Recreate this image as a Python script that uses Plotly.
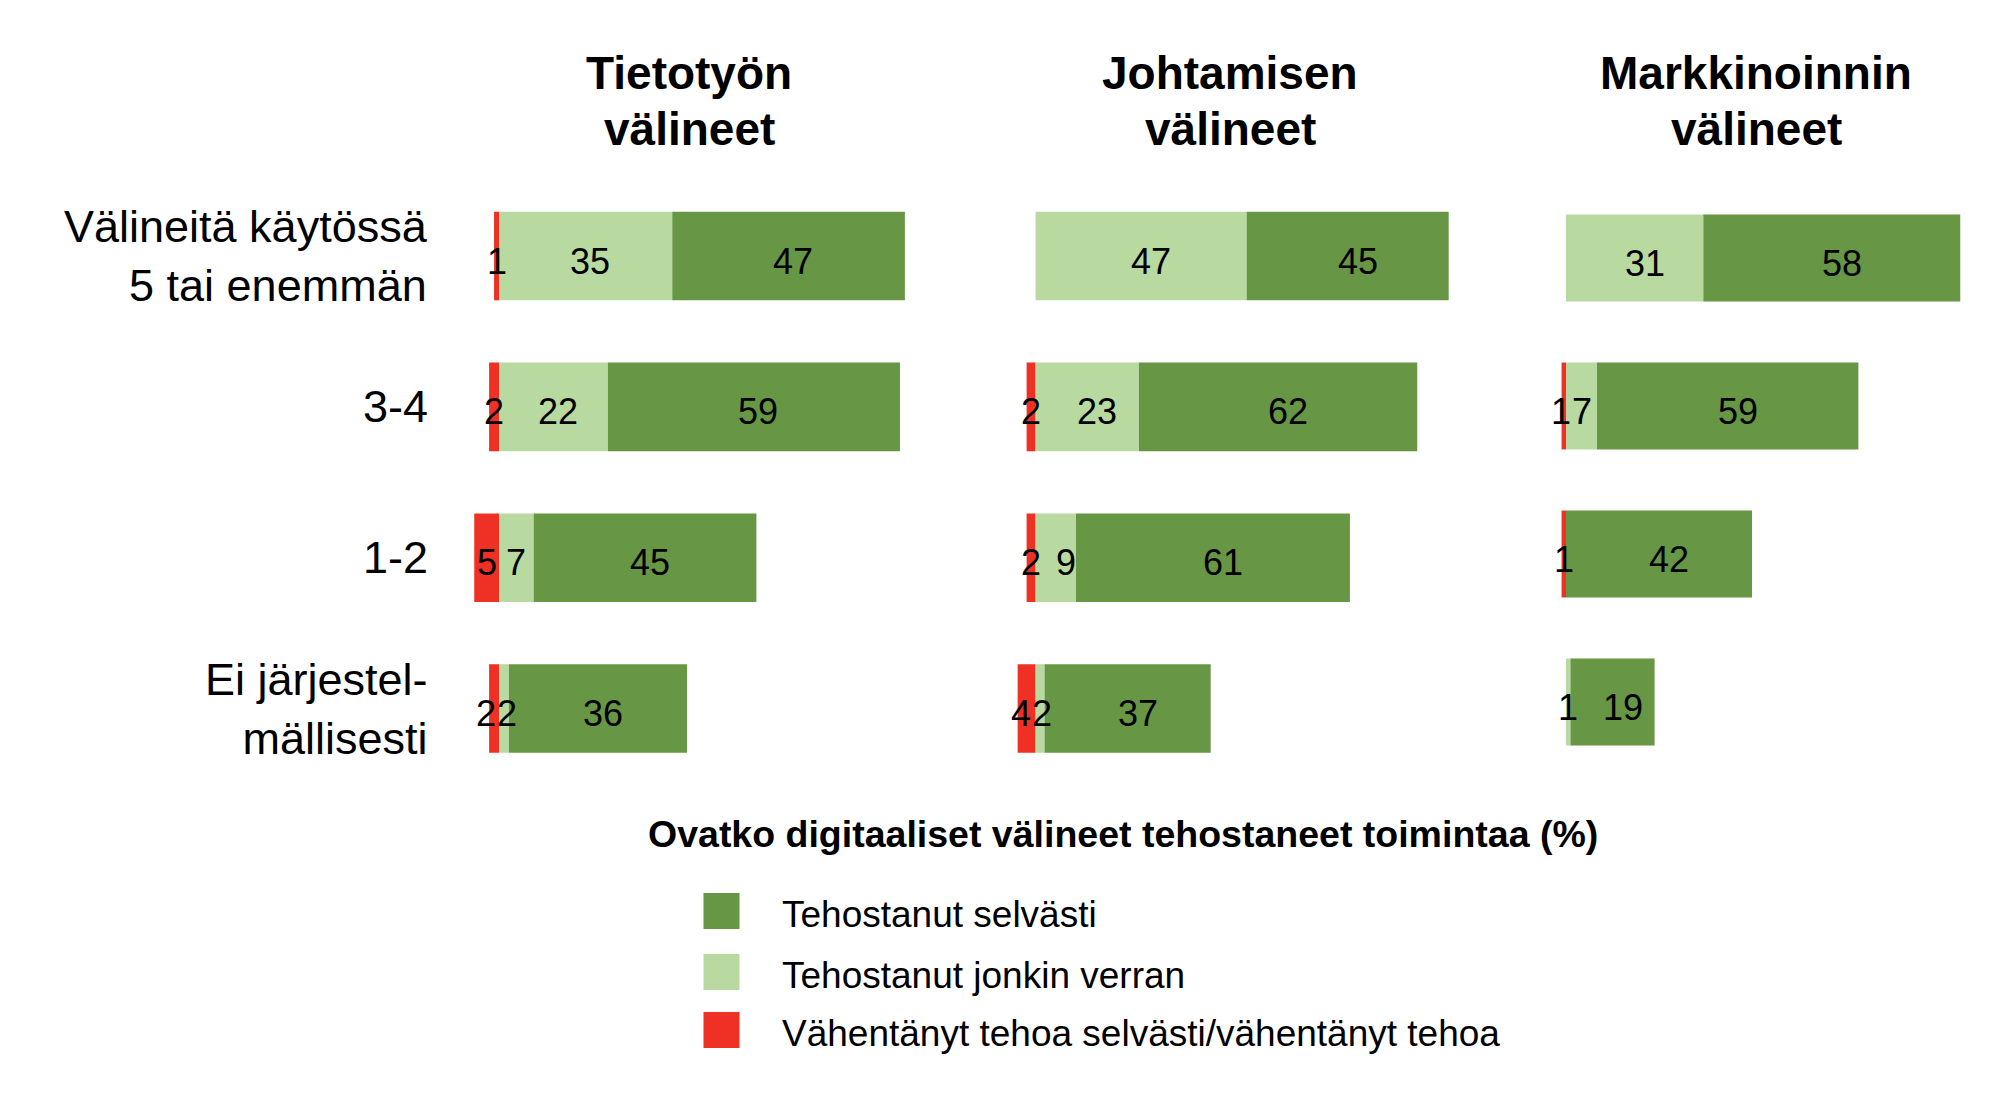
import plotly.graph_objects as go

# ---------------- data ----------------
categories = ["Välineitä käytössä<br>5 tai enemmän", "3-4", "1-2", "Ei järjestel-<br>mällisesti"]
panel_titles = [["Tietotyön", "välineet"], ["Johtamisen", "välineet"], ["Markkinoinnin", "välineet"]]

series_names = ["Tehostanut selvästi", "Tehostanut jonkin verran",
                "Vähentänyt tehoa selvästi/vähentänyt tehoa"]
legend_title = "Ovatko digitaaliset välineet tehostaneet toimintaa (%)"

# Tietotyön välineet
tieto_red = [1, 2, 5, 2]
tieto_light = [35, 22, 7, 2]
tieto_dark = [47, 59, 45, 36]
# Johtamisen välineet
joht_red = [0, 2, 2, 4]
joht_light = [47, 23, 9, 2]
joht_dark = [45, 62, 61, 37]
# Markkinoinnin välineet
mark_red = [0, 1, 1, 0]
mark_light = [31, 7, 0, 1]
mark_dark = [58, 59, 42, 19]

panels = [
    (tieto_red, tieto_light, tieto_dark),
    (joht_red, joht_light, joht_dark),
    (mark_red, mark_light, mark_dark),
]

# ---------------- style ----------------
W, H = 2016, 1114
RED = "#EE3124"
LIGHT = "#B8D9A0"
DARK = "#679645"
FONT = "Arial, Liberation Sans, sans-serif"
LABEL_SIZE = 36
DIGIT_W = LABEL_SIZE * 0.556

# panel geometry in pixels: (domain_left, domain_right, zero_px, px_per_unit, top_px, bottom_px)
geom = [
    (440, 960, 499.0, 4.95, 180.6, 784.0),
    (980, 1490, 1035.6, 4.49, 180.6, 784.0),
    (1520, 2010, 1566.0, 4.43, 184.0, 776.0),
]
label_dx = [4.5, 10, 10]   # horizontal nudge of labels in wide segments (px)
title_x = [689, 1230, 1756]
title_y = [73, 129]

fig = go.Figure()
annotations = []
for i, ((red, light, dark), g) in enumerate(zip(panels, geom)):
    ax = "" if i == 0 else str(i + 1)
    d0, d1, z, s, top, bot = g
    common = dict(orientation="h", y=categories, xaxis="x" + ax, yaxis="y" + ax,
                  showlegend=False, hoverinfo="skip")
    fig.add_trace(go.Bar(x=[-v for v in red], marker=dict(color=RED, line=dict(width=0)), **common))
    fig.add_trace(go.Bar(x=light, marker=dict(color=LIGHT, line=dict(width=0)), **common))
    fig.add_trace(go.Bar(x=dark, marker=dict(color=DARK, line=dict(width=0)), **common))

    # value labels centred in their segments, nudged apart when they collide
    for k, c in enumerate(categories):
        segs = [(-red[k] / 2, red[k], False), (light[k] / 2, light[k], True),
                (light[k] + dark[k] / 2, dark[k], True)]
        labs = [[cx, v, (label_dx[i] if (pos and v >= 9) else 0.0)] for cx, v, pos in segs if v]
        for j in range(len(labs) - 1):
            a, b = labs[j], labs[j + 1]
            need = (len(str(a[1])) + len(str(b[1]))) * DIGIT_W / 2 + 1
            gap = (b[0] - a[0]) * s + b[2] - a[2]
            if gap < need:
                dfc = need - gap
                a[2] -= dfc * 0.7
                b[2] += dfc * 0.3
        for cx, v, sh in labs:
            annotations.append(dict(text=str(v), x=cx, y=c, xref="x" + ax, yref="y" + ax,
                                    xanchor="center", yanchor="middle", showarrow=False,
                                    xshift=sh, yshift=-5,
                                    font=dict(family=FONT, size=LABEL_SIZE, color="black")))

layout = dict(
    width=W, height=H, margin=dict(l=0, r=0, t=0, b=0),
    paper_bgcolor="white", plot_bgcolor="white",
    barmode="relative", bargap=0.413,
    font=dict(family=FONT, color="black"),
)
for i, g in enumerate(geom):
    d0, d1, z, s, top, bot = g
    ax = "" if i == 0 else str(i + 1)
    layout["xaxis" + ax] = dict(domain=[d0 / W, d1 / W], range=[(d0 - z) / s, (d1 - z) / s],
                                visible=False, anchor="y" + ax, fixedrange=True)
    layout["yaxis" + ax] = dict(domain=[1 - bot / H, 1 - top / H], type="category",
                                categoryorder="array", categoryarray=categories,
                                range=[3.5, -0.5], visible=False, anchor="x" + ax,
                                fixedrange=True)
fig.update_layout(**layout)

# panel titles
for lines, x in zip(panel_titles, title_x):
    for t, yy in zip(lines, title_y):
        annotations.append(dict(text="<b>" + t + "</b>", x=x / W, y=1 - yy / H,
                                xref="paper", yref="paper", xanchor="center", yanchor="middle",
                                showarrow=False, font=dict(family=FONT, size=46, color="black")))
# row labels
for c in categories:
    annotations.append(dict(text=c, x=430 / W, y=c, xref="paper", yref="y",
                            xanchor="right", yanchor="middle", align="right", showarrow=False,
                            font=dict(family=FONT, size=45, color="black")))
# legend title
annotations.append(dict(text="<b>" + legend_title + "</b>", x=646 / W, y=1 - 834 / H,
                        xref="paper", yref="paper", xanchor="left", yanchor="middle",
                        showarrow=False, font=dict(family=FONT, size=37.5, color="black")))
# manual legend
shapes = []
legend_colors = [DARK, LIGHT, RED]
legend_centers = [911, 972, 1030]
for name, col, cy in zip(series_names, legend_colors, legend_centers):
    shapes.append(dict(type="rect", xref="paper", yref="paper",
                       x0=703.5 / W, x1=739.5 / W, y0=1 - (cy + 18) / H, y1=1 - (cy - 18) / H,
                       fillcolor=col, line=dict(width=0)))
    annotations.append(dict(text=name, x=780 / W, y=1 - (cy + 3) / H, xref="paper", yref="paper",
                            xanchor="left", yanchor="middle", showarrow=False,
                            font=dict(family=FONT, size=37, color="black")))
fig.update_layout(annotations=annotations, shapes=shapes)

fig.write_html("out.html", config={"displayModeBar": False},
               post_script="document.body.style.margin='0';document.body.style.overflow='hidden';")
